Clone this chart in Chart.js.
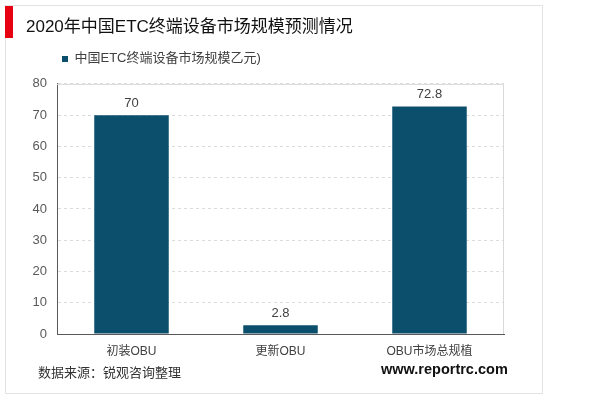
<!DOCTYPE html>
<html>
<head>
<meta charset="utf-8">
<script src="https://cdn.jsdelivr.net/npm/chart.js@4/dist/chart.umd.min.js"></script>
<style>
  body { margin: 0; background: #fff; }
  #wrap { position: relative; width: 600px; height: 398px; font-family: 'Liberation Sans', 'Noto Sans CJK SC', sans-serif; }
  #card { position: absolute; left: 5px; top: 5px; width: 536px; height: 387px; border: 1px solid #e3e3e3; }
  #redbar { position: absolute; left: 5px; top: 6px; width: 8px; height: 32px; background: #e60012; }
  #source { position: absolute; left: 38px; top: 362px; font-size: 13px; color: #333; }
  #site { position: absolute; left: 381px; top: 361px; font-size: 14.5px; font-weight: bold; color: #111; }
  canvas { position: absolute; left: 0; top: 0; }
</style>
</head>
<body>
<div id="wrap">
  <div id="card"></div>
  <div id="redbar"></div>
  <canvas id="chart" width="600" height="398"></canvas>
  <div id="source">数据来源：锐观咨询整理</div>
  <div id="site">www.reportrc.com</div>
</div>
<script>
// chart data
const categories = ['初装OBU', '更新OBU', 'OBU市场总规植'];
const marketSize = [70, 2.8, 72.8];
const yTicks = [0, 10, 20, 30, 40, 50, 60, 70, 80];
const seriesName = '中国ETC终端设备市场规模乙元)';
const titleText = '2020年中国ETC终端设备市场规模预测情况';

Chart.defaults.font.family = "'Liberation Sans', 'Noto Sans CJK SC', sans-serif";

// push the chart area down a bit below the legend
const legendGap = {
  id: 'legendGap',
  beforeInit(chart) {
    const fit = chart.legend.fit;
    chart.legend.fit = function () {
      fit.bind(chart.legend)();
      this.height += 8.5;
    };
  }
};

// light grey frame round the plot area
const plotFrame = {
  id: 'plotFrame',
  beforeDatasetsDraw(chart) {
    const { ctx, chartArea: a } = chart;
    ctx.save();
    ctx.strokeStyle = '#d9d9d9';
    ctx.lineWidth = 1;
    ctx.beginPath();
    ctx.moveTo(a.left, a.top + 0.5);
    ctx.lineTo(a.right - 0.5, a.top + 0.5);
    ctx.lineTo(a.right - 0.5, a.bottom);
    ctx.stroke();
    ctx.restore();
  }
};

// value labels over the bars
const barValues = {
  id: 'barValues',
  afterDatasetsDraw(chart) {
    const ctx = chart.ctx;
    const meta = chart.getDatasetMeta(0);
    ctx.save();
    ctx.font = "13px 'Liberation Sans', sans-serif";
    ctx.fillStyle = '#404040';
    ctx.textAlign = 'center';
    ctx.textBaseline = 'bottom';
    meta.data.forEach((bar, i) => {
      ctx.fillText(marketSize[i], bar.x, bar.y - 5);
    });
    ctx.restore();
  }
};

new Chart(document.getElementById('chart'), {
  type: 'bar',
  data: {
    labels: categories,
    datasets: [{
      label: seriesName,
      data: marketSize,
      backgroundColor: '#0b4f6c',
      barPercentage: 0.5,
      categoryPercentage: 1
    }]
  },
  options: {
    responsive: false,
    animation: false,
    layout: { padding: { left: 26, right: 96, top: 0, bottom: 0 } },
    plugins: {
      title: {
        display: true,
        text: titleText,
        align: 'start',
        color: '#111',
        font: { size: 17, weight: 'normal' },
        padding: { top: 17.5, bottom: 9.5 }
      },
      legend: {
        position: 'top',
        align: 'start',
        fullSize: false,
        labels: {
          boxWidth: 6,
          boxHeight: 6,
          padding: 5,
          color: '#404040',
          font: { size: 13 }
        }
      },
      tooltip: { enabled: false }
    },
    scales: {
      x: {
        grid: { display: false, drawTicks: false },
        border: { color: '#595959', width: 1 },
        ticks: { color: '#404040', font: { size: 12 }, padding: 10 },
        afterFit(scale) { scale.height = 64; }
      },
      y: {
        min: 0,
        max: 80,
        afterBuildTicks(scale) { scale.ticks = yTicks.map(v => ({ value: v })); },
        grid: { color: '#dcdcdc', drawTicks: false },
        border: { color: '#595959', width: 1, dash: [3, 3] },
        ticks: { color: '#595959', font: { size: 13 }, padding: 10 },
        afterFit(scale) { scale.width = 31; }
      }
    }
  },
  plugins: [legendGap, plotFrame, barValues]
});
</script>
</body>
</html>
